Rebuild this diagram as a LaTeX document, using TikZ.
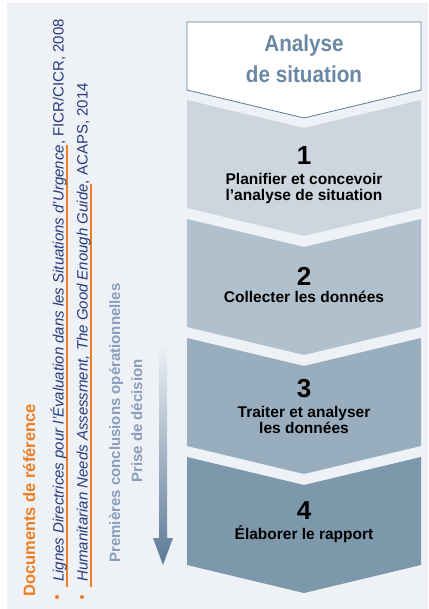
\documentclass[tikz,border=0pt]{standalone}
\usepackage{fontspec}
\setmainfont{Liberation Sans}
\newfontfamily\headfont[FakeStretch=0.9]{Liberation Sans}

\definecolor{pagebg}{RGB}{238,242,246}
\definecolor{bandA}{RGB}{205,214,223}
\definecolor{bandB}{RGB}{176,192,205}
\definecolor{bandC}{RGB}{152,173,190}
\definecolor{bandD}{RGB}{125,151,171}
\definecolor{steel}{RGB}{106,136,164}
\definecolor{headline}{RGB}{92,122,148}
\definecolor{refor}{RGB}{239,125,34}
\definecolor{refnavy}{RGB}{40,58,124}
\definecolor{softblue}{RGB}{138,158,188}
\definecolor{arrowblue}{RGB}{92,122,150}

% orange underline drawn under a piece of text
\newsavebox\ulbox
\newcommand\orul[1]{\sbox\ulbox{#1}%
  \rlap{\kern-5pt\color{refor}\rule[-4pt]{\dimexpr\wd\ulbox+5pt\relax}{1.1pt}}\usebox\ulbox}

\tikzset{
  headtxt/.style={font=\headfont\bfseries\fontsize{23}{28}\selectfont, text=steel, inner sep=0pt, anchor=base},
  numtxt/.style={font=\bfseries\fontsize{26}{30}\selectfont, text=black, inner sep=0pt, anchor=base},
  steptxt/.style={font=\bfseries\fontsize{15.5}{17}\selectfont, text=black, inner sep=0pt, anchor=base},
  reftitle/.style={font=\bfseries\fontsize{16.5}{18}\selectfont, text=refor, inner sep=0pt, rotate=90, anchor=base west},
  reftxt/.style={font=\fontsize{15}{17}\selectfont, text=refnavy, inner sep=0pt, rotate=90, anchor=base west},
  sidetxt/.style={font=\bfseries\fontsize{15}{16}\selectfont, text=softblue, inner sep=0pt, rotate=90, anchor=base},
}

\begin{document}
\begin{tikzpicture}[x=1pt,y=-1pt]
  % page
  \fill[white] (0,0) rectangle (428,609);
  \fill[pagebg] (7,3) rectangle (428,609);
  \useasboundingbox (0,0) rectangle (428,609);

  % header pentagon
  \draw[headline, line width=0.8pt, fill=white]
    (187,22) -- (421,22) -- (421,90) -- (304,118) -- (187,90) -- cycle;
  \node[headtxt] (hdA) at (304,52) {Analyse};
  \node[headtxt] (hdB) at (304,83) {de situation};

  % chevron bands
  \foreach \t/\c in {100/bandA, 219/bandB, 338/bandC, 457/bandD}{
    \fill[\c] (187,\t) -- (304,\t+28) -- (421,\t) -- (421,\t+108)
      -- (304,\t+136) -- (187,\t+108) -- cycle;
  }

  % step 1
  \node[numtxt] (n1) at (304,165) {1};
  \node[steptxt] (s1a) at (304,185) {Planifier et concevoir};
  \node[steptxt] (s1b) at (304,201) {l’analyse de situation};
  % step 2
  \node[numtxt] (n2) at (304,285) {2};
  \node[steptxt] (s2) at (304,302) {Collecter les données};
  % step 3
  \node[numtxt] (n3) at (304,397) {3};
  \node[steptxt] (s3a) at (304,417) {Traiter et analyser};
  \node[steptxt] (s3b) at (304,433) {les données};
  % step 4
  \node[numtxt] (n4) at (304,519) {4};
  \node[steptxt] (s4) at (304,539) {Élaborer le rapport};

  % fading arrow beside the steps
  \shade[top color=pagebg, bottom color=arrowblue]
    (159,342) -- (167,342) -- (167,538) -- (173,538) -- (163,565)
    -- (153,538) -- (159,538) -- cycle;
  \node[sidetxt] (pc) at (120,423) {Premières conclusions opérationnelles};
  \node[sidetxt] (pd) at (142,421) {Prise de décision};

  % reference documents
  \node[reftitle] (rt) at (35,597) {Documents de référence};
  \fill[refor] (57,597) circle (2);
  \fill[refor] (82,597) circle (2);
  \node[reftxt] (r1) at (63.5,582)
    {\orul{\itshape Lignes Directrices pour l’Évaluation dans les Situations d’Urgence}, FICR/CICR, 2008};
  \node[reftxt] (r2) at (87.5,582)
    {\orul{\itshape Humanitarian Needs Assessment, The Good Enough Guide}, ACAPS, 2014};
\end{tikzpicture}
\end{document}
